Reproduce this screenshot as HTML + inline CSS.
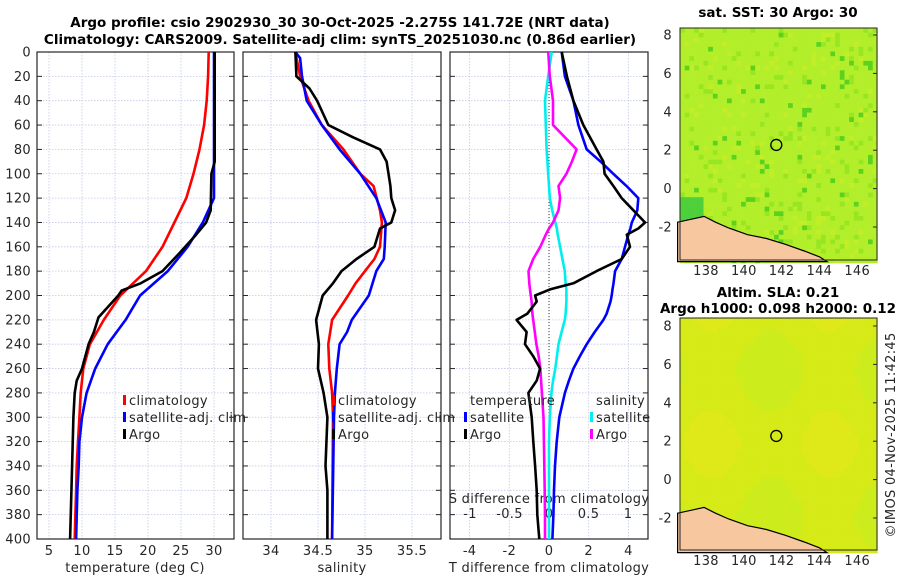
<!DOCTYPE html>
<html><head><meta charset="utf-8"><style>
html,body{margin:0;padding:0;background:#fff;}
svg{display:block;font-family:"DejaVu Sans","Liberation Sans",sans-serif;}
.t{font-size:13px;fill:#262626;letter-spacing:0.3px;}
.b{font-size:13.5px;font-weight:bold;fill:#000;}
</style></head><body>
<svg id="fig" width="900" height="580" viewBox="0 0 900 580">
<text class="b" x="340" y="27" text-anchor="middle">Argo profile: csio 2902930_30 30-Oct-2025 -2.275S 141.72E (NRT data)</text>
<text class="b" x="340" y="44" text-anchor="middle">Climatology: CARS2009. Satellite-adj clim: synTS_20251030.nc (0.86d earlier)</text>
<g id="layer"></g>
</svg>
<script>
// ---- data ----
const tDepth=[0,20,40,60,80,100,120,140,160,180,200,220,240,260,280,300,320,340,360,400];
const tClim=[29.2,29.1,28.9,28.5,27.8,26.9,25.8,24.0,22.2,19.7,15.8,13.3,11.2,10.2,9.8,9.6,9.4,9.2,9.1,8.9];
const tSat=[30.0,30.0,30.0,30.0,30.0,30.0,30.0,28.3,26.0,23.0,18.8,16.6,13.9,12.0,10.7,10.0,9.6,9.5,9.3,9.1];
const argoTDepth=[0,90,100,130,140,150,165,180,190,196,200,218,230,240,260,270,280,300,340,400];
const argoT=[30.1,30.1,29.6,29.5,28.8,27.3,24.8,22.2,18.9,16.0,15.5,12.5,11.8,11.0,10.0,9.2,8.9,8.7,8.5,8.2];
const sDepth=[0,20,40,60,80,100,110,130,140,160,170,180,190,200,220,240,260,280,300,400];
const sClim=[34.26,34.31,34.40,34.54,34.77,34.95,35.09,35.16,35.18,35.16,35.10,35.0,34.90,34.82,34.65,34.61,34.62,34.65,34.66,34.65];
const sSatDepth=[0,5,20,40,60,80,100,120,140,160,170,180,200,220,230,240,260,280,300,400];
const sSat=[34.26,34.31,34.33,34.38,34.54,34.73,34.95,35.12,35.22,35.21,35.20,35.12,35.04,34.86,34.81,34.73,34.70,34.68,34.67,34.65];
const argoSDepth=[0,20,30,40,60,70,80,90,110,120,130,140,145,160,170,180,190,200,220,240,260,280,300,340,360,400];
const argoS=[34.26,34.27,34.41,34.49,34.61,34.87,35.16,35.23,35.27,35.28,35.32,35.28,35.16,35.10,34.91,34.75,34.66,34.55,34.48,34.51,34.50,34.56,34.60,34.58,34.60,34.60];
const dDepth=[0,20,40,60,80,90,100,110,120,130,140,145,150,160,170,180,190,195,200,205,215,220,230,240,250,260,270,280,300,320,340,360,380,400];
const dTSat=[0.64,0.8,1.23,1.48,1.9,2.6,3.24,3.9,4.5,4.45,4.17,4.1,4.0,3.83,3.66,3.33,3.25,3.2,3.16,3.1,2.9,2.74,2.3,1.9,1.55,1.23,1.0,0.8,0.52,0.39,0.3,0.25,0.22,0.17];
const dTArgo=[0.64,0.9,1.23,1.73,2.4,2.74,2.8,3.24,3.66,4.25,4.84,4.5,3.92,4.08,3.66,2.4,1.23,0.05,-0.7,-0.62,-1.1,-1.63,-1.13,-1.21,-0.79,-0.45,-0.62,-1.04,-0.87,-0.79,-0.7,-0.62,-0.59,-0.49];
const dSSat=[0.034,-0.01,-0.05,-0.04,-0.03,-0.02,-0.01,0.0,0.01,0.04,0.08,0.1,0.11,0.14,0.17,0.2,0.21,0.22,0.22,0.22,0.21,0.2,0.16,0.12,0.1,0.08,0.05,0.03,0.01,0.0,0.0,0.0,0.0,0.0];
const dSArgo=[-0.01,0.01,0.05,0.05,0.35,0.29,0.22,0.12,0.14,0.12,0.05,0.0,-0.04,-0.11,-0.2,-0.26,-0.25,-0.24,-0.23,-0.22,-0.21,-0.2,-0.18,-0.16,-0.13,-0.11,-0.1,-0.09,-0.07,-0.065,-0.06,-0.055,-0.05,-0.05];
const depthTicks=[0,20,40,60,80,100,120,140,160,180,200,220,240,260,280,300,320,340,360,380,400];
const tTicks=[5,10,15,20,25,30];
const sTicks=[34,34.5,35,35.5];
const sTickLabels=["34","34.5","35","35.5"];
const dTTicks=[-4,-2,0,2,4];
const dSTicks=[-1,-0.5,0,0.5,1];
const dSTickLabels=["-1","-0.5","0","0.5","1"];
const latTicks=[8,6,4,2,0,-2];
const lonTicks=[138,140,142,144,146];
const argoLon=141.72, argoLat=2.275;

// ---- scales ----
const yD=d=>52+d*1.2175;
const xT=t=>49+(t-5)*6.6;
const xS=s=>271+(s-34)*94;
const xdT=t=>549+t*19.85;
const xdS=s=>549+s*79;
const xLon=l=>706+(l-138)*18.9;
const yLat1=l=>35+(8-l)*19.2;
const yLat2=l=>326+(8-l)*19.2;

const NS="http://www.w3.org/2000/svg";
const layer=document.getElementById('layer');
function mk(tag,attrs,parent){const e=document.createElementNS(NS,tag);for(const k in attrs)e.setAttribute(k,attrs[k]);(parent||layer).appendChild(e);return e;}
function txt(s,x,y,anchor,cls,parent){const e=mk('text',{x:x,y:y,'text-anchor':anchor||'middle','class':cls||'t'},parent);e.textContent=s;return e;}

const panels=[{x0:37,x1:234,name:'temperature'},{x0:243,x1:441,name:'salinity'},{x0:450,x1:648,name:'difference'}];
const vgrid=[tTicks.map(xT),sTicks.map(xS),dTTicks.map(xdT)];
panels.forEach((p,i)=>{
  const g=mk('g',{});
  
  
  depthTicks.forEach(d=>{
    const l=mk('line',{x1:p.x0,x2:p.x1,y1:yD(d),y2:yD(d),stroke:'#c3c8e6','stroke-width':0.8,'stroke-dasharray':'1.5,1.5'},g);
    
    
    mk('line',{x1:p.x0,x2:p.x0+5,y1:yD(d),y2:yD(d),stroke:'#262626','stroke-width':1},g);
    mk('line',{x1:p.x1-5,x2:p.x1,y1:yD(d),y2:yD(d),stroke:'#262626','stroke-width':1},g);
  });
  vgrid[i].forEach(x=>{
    const l=mk('line',{x1:x,x2:x,y1:52,y2:539,stroke:'#c3c8e6','stroke-width':0.8,'stroke-dasharray':'1.5,1.5'},g);
    
    
  });
  const f=mk('rect',{x:p.x0,y:52,width:p.x1-p.x0,height:487,fill:'none',stroke:'#262626','stroke-width':1.2},g);
  
  
});
depthTicks.forEach(d=>{
  const e=txt(String(d),31,yD(d)+4.5,'end');
  
  
});
tTicks.forEach(t=>{const e=txt(String(t),xT(t),555);});
sTicks.forEach((s,i)=>{const e=txt(sTickLabels[i],xS(s),555);});
dTTicks.forEach(t=>{const e=txt(String(t),xdT(t),555);});
dSTicks.forEach((s,i)=>{const e=txt(dSTickLabels[i],xdS(s),518);});
let e;
e=txt('temperature (deg C)',135,572);
e=txt('salinity',342,572);
e=txt('T difference from climatology',549,572);
e=txt('S difference from climatology',549,503);
e=mk('line',{x1:549,x2:549,y1:52,y2:539,stroke:'#333','stroke-width':1,'stroke-dasharray':'1,2'});



function series(xs,ds,xf,color,name){
  const pts=xs.map((v,i)=>xf(v).toFixed(1)+','+yD(ds[i]).toFixed(1)).join(' ');
  const p=mk('polyline',{points:pts,fill:'none',stroke:color,'stroke-width':2.6,'stroke-linejoin':'round'});
  
  
}
series(tClim,tDepth,xT,'#ff0000','temperature-climatology-line');
series(tSat,tDepth,xT,'#0000ff','temperature-satellite-line');
series(argoT,argoTDepth,xT,'#000000','temperature-argo-line');
series(sClim,sDepth,xS,'#ff0000','salinity-climatology-line');
series(sSat,sSatDepth,xS,'#0000ff','salinity-satellite-line');
series(argoS,argoSDepth,xS,'#000000','salinity-argo-line');
series(dSSat,dDepth,xdS,'#00eeee','s-diff-satellite-line');
series(dSArgo,dDepth,xdS,'#ff00ff','s-diff-argo-line');
series(dTSat,dDepth,xdT,'#0000ff','t-diff-satellite-line');
series(dTArgo,dDepth,xdT,'#000000','t-diff-argo-line');

function legend(x,y,color,label,name){
  const g=mk('g',{});
  
  
  mk('rect',{x:x-6,y:y-10,width:3,height:10,fill:color},g);
  txt(label,x,y,'start','t',g);
}
legend(129,405,'#ff0000','climatology','legend-climatology');
legend(129,422,'#0000ff','satellite-adj. clim','legend-satellite-adj');
legend(129,439,'#000000','Argo','legend-argo');
legend(338,405,'#ff0000','climatology','legend-climatology-salinity');
legend(338,422,'#0000ff','satellite-adj. clim','legend-satellite-adj-salinity');
legend(338,439,'#000000','Argo','legend-argo-salinity');
e=txt('temperature',470,405,'start');
e=txt('salinity',596,405,'start');
legend(470,422,'#0000ff','satellite','legend-t-satellite');
legend(470,439,'#000000','Argo','legend-t-argo');
legend(596,422,'#00eeee','satellite','legend-s-satellite');
legend(596,439,'#ff00ff','Argo','legend-s-argo');

// ---- maps ----
function hash(i,j,s){let h=(i*374761393+j*668265263+s*1442695041)|0;h=(h^(h>>>13))*1274126177|0;return ((h^(h>>>16))>>>0)/4294967295;}
function drawMap(top,yLat,kind,title1,title2){
  const g=mk('g',{});
  
  
  const cs=4.7;
  for(let i=0;i<42;i++)for(let j=0;j<50;j++){
    const r=hash(i,j,kind==='sst'?1:2);
    let c;
    if(kind==='sst'){
      c=r<0.03?'#5ad21e':r<0.11?'#98e622':r<0.17?'#c2ee28':'#b2ee2a';
      if(i<5&&j>35&&j<42)c='#4ed03a';
    }else{
      const v=Math.sin(i*0.25)+Math.cos(j*0.2+1);
      c=v>1.1?'#dfe818':v<-0.8?'#cdec1c':'#d6ea18';
    }
    mk('rect',{x:680+i*cs,y:top+j*cs,width:cs+0.3,height:cs+0.3,fill:c},g);
  }
  const land=[[136.5,-1.75],[137.2,-1.6],[137.9,-1.45],[138.5,-1.75],[139.2,-2.05],[140.2,-2.4],[141.2,-2.6],[142.2,-2.9],[143.2,-3.25],[144.0,-3.55],[144.4,-3.8],[136.5,-3.8]];
  const lp=mk('polygon',{points:land.map(p=>xLon(p[0]).toFixed(1)+','+yLat(p[1]).toFixed(1)).join(' '),fill:'#f7c79f',stroke:'#000','stroke-width':1.2},g);
  
  
  const c=mk('circle',{cx:xLon(argoLon),cy:yLat(argoLat),r:5.5,fill:'none',stroke:'#000','stroke-width':1.3},g);
  
  
  mk('rect',{x:680,y:top,width:197,height:232,fill:'none',stroke:'#262626','stroke-width':1},g);
  latTicks.forEach(l=>{
    txt(String(l),672,yLat(l)+4.5,'end','t',g);
    mk('line',{x1:873,x2:877,y1:yLat(l),y2:yLat(l),stroke:'#262626'},g);
  });
  lonTicks.forEach(l=>{txt(String(l),xLon(l),top+247,'middle','t',g);});
  txt(title1,778,kind==='sst'?17:297,'middle','b',g);
  if(title2)txt(title2,778,313,'middle','b',g);
}
drawMap(28,yLat1,'sst','sat. SST: 30 Argo: 30');
drawMap(318,yLat2,'sla','Altim. SLA: 0.21','Argo h1000: 0.098 h2000: 0.12');
e=mk('text',{x:0,y:0,'class':'t',transform:'translate(895,435) rotate(-90)','text-anchor':'middle'});
e.textContent='©IMOS 04-Nov-2025 11:42:45';


</script>
</body></html>
